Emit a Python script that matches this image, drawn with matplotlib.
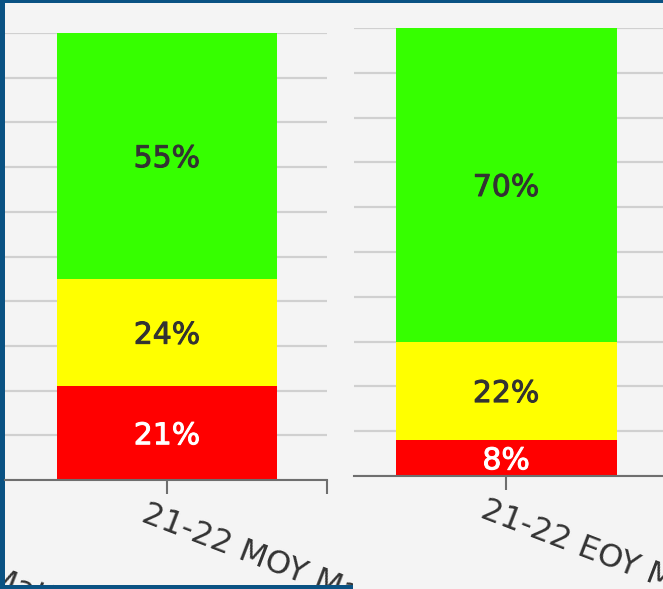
import matplotlib.pyplot as plt
import matplotlib.patheffects as pe
import matplotlib.transforms as mtransforms
from matplotlib.patches import Rectangle

# ---------------------------------------------------------------
# data (percent of students per band)
# ---------------------------------------------------------------
left_categories = ['21-22 BOY Math', '21-22 MOY Math']
left_red = [None, 21]
left_yellow = [None, 24]
left_green = [None, 55]

right_categories = ['21-22 EOY Math']
right_red = [8]
right_yellow = [22]
right_green = [70]

GREEN = '#36ff00'
YELLOW = '#ffff00'
RED = '#ff0000'
BG = '#0a5283'
PANEL = '#f4f4f4'
GRID = '#d0d0d0'
AXIS = '#6e6e6e'

W, H = 663, 589
fig = plt.figure(figsize=(W / 100, H / 100), dpi=100, facecolor=BG)


def fx(px):
    return px / W


def fy(py):
    return 1 - py / H


# two light panels on the blue background
left_box = (fx(5), fy(585), fx(353), fy(3))
right_box = (fx(353), fy(589), fx(663), fy(3))
for x0, y0, x1, y1 in (left_box, right_box):
    fig.patches.append(Rectangle((x0, y0), x1 - x0, y1 - y0, transform=fig.transFigure,
                                 facecolor=PANEL, edgecolor='none', zorder=-10))


def style_axes(ax):
    ax.set_facecolor('none')
    ax.set_ylim(0, 100)
    ax.set_yticks(range(0, 101, 10))
    ax.yaxis.grid(True, color=GRID, linewidth=1.6)
    ax.set_axisbelow(True)
    ax.tick_params(axis='y', length=0, labelleft=False)
    ax.tick_params(axis='x', length=10, width=1.5, color=AXIS, labelbottom=False)
    for side in ('left', 'right', 'top'):
        ax.spines[side].set_visible(False)
    ax.spines['bottom'].set_color(AXIS)
    ax.spines['bottom'].set_linewidth(1.5)


def stacked(ax, idx, red, yellow, green):
    width = 0.69
    bottom = 0
    for val, col, txt in ((red, RED, 'white'), (yellow, YELLOW, '#333333'), (green, GREEN, '#333333')):
        ax.bar(idx, val, width, bottom=bottom, color=col, edgecolor='none', zorder=2)
        ax.text(idx, bottom + val / 2 - 0.6, f'{val}%', ha='center', va='center',
                color=txt, fontsize=21.5, zorder=3,
                path_effects=[pe.withStroke(linewidth=0.7, foreground=txt)])
        bottom += val


def category_label(ax, idx, text, box):
    trans = mtransforms.blended_transform_factory(ax.transData, ax.transAxes)
    trans = trans + mtransforms.ScaledTranslation(-18 / 100, -19 / 100, fig.dpi_scale_trans)
    t = fig.text(idx, 0, text, transform=trans, rotation=-21, rotation_mode='anchor',
                 ha='left', va='top', fontsize=23, color='#333333', zorder=5)
    clip = mtransforms.TransformedBbox(mtransforms.Bbox.from_extents(*box), fig.transFigure)
    t.set_clip_box(clip)
    t.set_clip_on(True)


# left chart (only the right end of a wider chart is visible)
ax1 = fig.add_axes([fx(5), fy(480), fx(327) - fx(5), fy(33) - fy(480)])
style_axes(ax1)
ax1.set_xlim(0.494, 1.5)
ax1.set_xticks([1, 1.5])
for i, cat in enumerate(left_categories):
    if left_red[i] is not None:
        stacked(ax1, i, left_red[i], left_yellow[i], left_green[i])
    category_label(ax1, i, cat, left_box)

# right chart
ax2 = fig.add_axes([fx(354), fy(476), fx(663) - fx(354), fy(28) - fy(476)])
style_axes(ax2)
ax2.set_xlim(-0.475, 0.49)
ax2.set_xticks([0])
for i, cat in enumerate(right_categories):
    stacked(ax2, i, right_red[i], right_yellow[i], right_green[i])
    category_label(ax2, i, cat, right_box)

fig.savefig('out.png', dpi=100, facecolor=BG)
